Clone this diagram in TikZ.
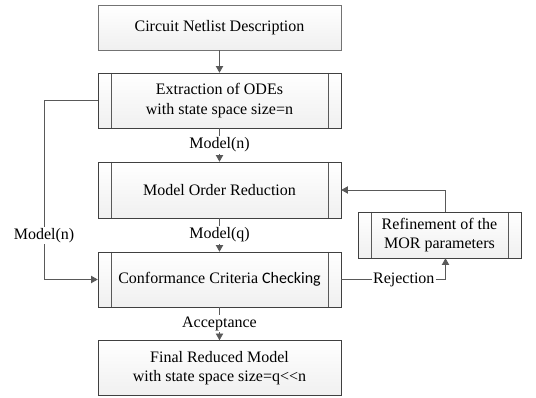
\documentclass[tikz,border=0pt]{standalone}
\usepackage{fontspec}
\setmainfont{Liberation Serif}
\newfontfamily\calfont{Carlito}
\usetikzlibrary{arrows.meta,positioning}

\tikzset{
 box/.style={draw=black!75, top color=white, bottom color=gray!12, minimum width=182.25pt,
   minimum height=41.25pt, align=center, font=\fontsize{12}{14.5}\selectfont, inner sep=2pt},
 process/.style={box, path picture={
   \draw[black!65] ([xshift=9.75pt]path picture bounding box.north west) -- ([xshift=9.75pt]path picture bounding box.south west);
   \draw[black!65] ([xshift=-9.75pt]path picture bounding box.north east) -- ([xshift=-9.75pt]path picture bounding box.south east);}},
 flow/.style={draw=black!65, line width=0.6pt, -{Triangle[length=5pt,width=5.5pt]}},
 lbl/.style={fill=white, inner sep=1pt, font=\fontsize{12}{14}\selectfont, text=black}
}

\begin{document}
\begin{tikzpicture}[x=0.75pt,y=-0.75pt]
 \useasboundingbox (0,0) rectangle (536,398);

 \node[box, minimum height=33.75pt, draw=black!55] (netlist) at (219.5,27.5) {Circuit Netlist Description};
 \node[process] (ext) at (219.5,100.5) {Extraction of ODEs\\with state space size=n};
 \node[process, minimum height=42pt] (mor) at (219.5,190) {Model Order Reduction};
 \node[process] (conf) at (219.5,279.5) {Conformance Criteria {\calfont Checking}};
 \node[box] (final) at (219.5,368) {Final Reduced Model\\with state space size=q<{}<n};
 \node[process, minimum width=122.25pt, minimum height=34.5pt] (refine) at (439.5,235) {Refinement of the\\MOR parameters};

 \coordinate (lft) at (44,100.5);
 \coordinate (rtop) at ([xshift=4.5]refine.north);
 \coordinate (rbot) at ([xshift=4.5]refine.south);

 % main chain
 \draw[flow] (netlist) -- (ext);
 \draw[flow] (ext) -- node[lbl]{Model(n)} (mor);
 \draw[flow] (mor) -- node[lbl]{Model(q)} (conf);
 \draw[flow] (conf) -- node[lbl]{Acceptance} (final);

 % bypass and feedback
 \draw[flow] (ext.west) -- (lft) |- node[lbl, pos=0.377]{Model(n)} (conf.west);
 \draw[flow] (conf.east) -| node[lbl, pos=0.3]{Rejection} (rbot);
 \draw[flow] (rtop) |- (mor.east);
\end{tikzpicture}
\end{document}
